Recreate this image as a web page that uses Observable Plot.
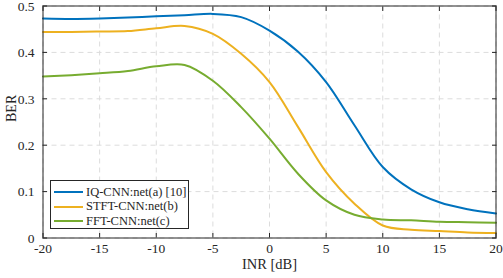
<!DOCTYPE html>
<html><head><meta charset="utf-8">
<script src="https://cdn.jsdelivr.net/npm/d3@7"></script>
<script src="https://cdn.jsdelivr.net/npm/@observablehq/plot@0.6"></script>
<style>
body{margin:0;background:#fff;}
#wrap{position:relative;width:503px;height:278px;font-family:"Liberation Serif",serif;}
#legend{position:absolute;left:50px;top:180px;width:137px;height:47px;border:1px solid #262626;background:#fff;font-size:12.5px;color:#262626;}
#legend .row{position:absolute;left:3px;height:14px;display:flex;align-items:center;white-space:nowrap;}
#legend .sw{width:29px;height:2px;margin-right:3px;}
</style></head>
<body><div id="wrap"></div>
<script>
const inr = [-20,-17.5,-15,-12.5,-10,-7.5,-5,-2.5,0,2.5,5,7.5,10,12.5,15,17.5,20];
const seriesNames = ["IQ-CNN:net(a) [10]","STFT-CNN:net(b)","FFT-CNN:net(c)"];
const iqBER   = [0.473,0.472,0.473,0.475,0.478,0.480,0.483,0.476,0.447,0.402,0.336,0.243,0.153,0.105,0.077,0.062,0.053];
const stftBER = [0.444,0.444,0.445,0.446,0.452,0.457,0.440,0.397,0.336,0.240,0.142,0.074,0.027,0.018,0.015,0.012,0.011];
const fftBER  = [0.348,0.351,0.355,0.360,0.370,0.373,0.339,0.282,0.214,0.139,0.081,0.050,0.040,0.038,0.035,0.034,0.033];
const colors = ["#0072BD","#EDB120","#77AC30"];
const xTicks = [-20,-15,-10,-5,0,5,10,15,20];
const yTicks = [0,0.1,0.2,0.3,0.4,0.5];
const xLabel = "INR [dB]";
const yLabel = "BER";

const all = [iqBER,stftBER,fftBER];
const data = [];
all.forEach((arr,si)=>arr.forEach((v,i)=>data.push({series:seriesNames[si], x:inr[i], y:v})));

const FF = "Liberation Serif, Times New Roman, serif";
const INK = "#262626";
const fmtY = d => d===0 ? "0" : d.toFixed(1);
const fmtX = d => String(d);
const chart = Plot.plot({
  width:503, height:278,
  marginLeft:42.5, marginRight:7.5, marginTop:5.5, marginBottom:40.5,
  style:{fontFamily:FF, background:"#fff", color:INK, overflow:"visible"},
  x:{domain:[-20,20], axis:null},
  y:{domain:[0,0.5], axis:null},
  color:{domain:seriesNames, range:colors},
  marks:[
    Plot.ruleX(xTicks,{x:d=>d,stroke:"#dcdcdc",strokeDasharray:"5,4",strokeWidth:1}),
    Plot.ruleY(yTicks,{y:d=>d,stroke:"#dcdcdc",strokeDasharray:"5,4",strokeWidth:1}),
    Plot.line(data,{x:"x",y:"y",z:"series",stroke:"series",strokeWidth:2,curve:"catmull-rom"}),
    Plot.frame({stroke:INK,strokeWidth:1}),
    // inward tick marks on all four sides
    Plot.axisX(xTicks,{anchor:"bottom",tickSize:-4.5,tickFormat:()=>"",stroke:INK,label:null}),
    Plot.axisX(xTicks,{anchor:"top",tickSize:-4.5,tickFormat:()=>"",stroke:INK,label:null}),
    Plot.axisY(yTicks,{anchor:"left",tickSize:-4.5,tickFormat:()=>"",stroke:INK,label:null}),
    Plot.axisY(yTicks,{anchor:"right",tickSize:-4.5,tickFormat:()=>"",stroke:INK,label:null}),
    // tick labels
    Plot.text(xTicks,{x:d=>d,frameAnchor:"bottom",dy:14.5,text:fmtX,fontSize:13.5,fontFamily:FF,fill:INK}),
    Plot.text(yTicks,{y:d=>d,frameAnchor:"left",dx:-8.5,dy:0.5,textAnchor:"end",text:fmtY,fontSize:13.5,fontFamily:FF,fill:INK}),
    // axis titles
    Plot.text([xLabel],{frameAnchor:"bottom",dy:31,text:d=>d,fontSize:14.5,fontFamily:FF,fill:INK}),
    Plot.text([yLabel],{frameAnchor:"left",dx:-31,rotate:-90,text:d=>d,fontSize:14,fontFamily:FF,fill:INK})
  ]
});
const wrap = document.getElementById("wrap");
wrap.appendChild(chart);
const leg = document.createElement("div");
leg.id = "legend";
seriesNames.forEach((n,i)=>{
  const r = document.createElement("div");
  r.className="row";
  r.style.top = (4 + i*14.5) + "px";
  r.innerHTML = `<span class="sw" style="background:${colors[i]}"></span><span>${n}</span>`;
  leg.appendChild(r);
});
wrap.appendChild(leg);
</script></body></html>
